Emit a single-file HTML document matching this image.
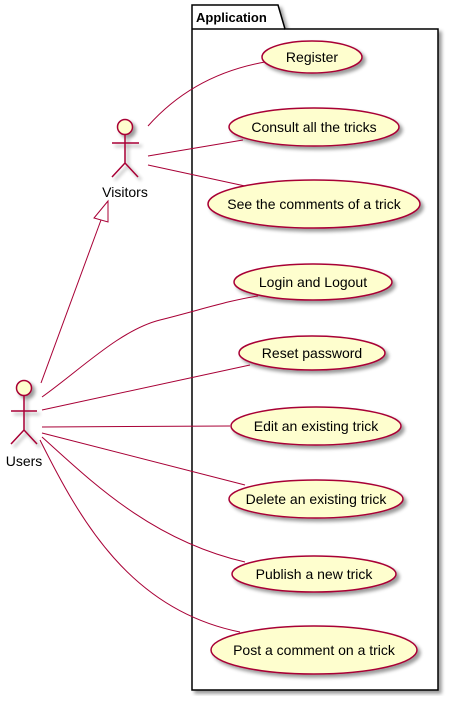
<!DOCTYPE html>
<html><head><meta charset="utf-8"><style>html,body{margin:0;padding:0;background:#fff}</style></head>
<body>
<svg width="453" height="696" xmlns="http://www.w3.org/2000/svg" font-family="Liberation Sans, sans-serif">
<defs><filter id="sh" x="-20%" y="-20%" width="150%" height="150%"><feGaussianBlur in="SourceAlpha" stdDeviation="1.8"/><feOffset dx="3" dy="3"/><feComponentTransfer><feFuncA type="linear" slope="0.4"/></feComponentTransfer><feMerge><feMergeNode/><feMergeNode in="SourceGraphic"/></feMerge></filter></defs>
<g filter="url(#sh)">
<path d="M192,5 L278,5 L285,29 L438,29 L438,690 L192,690 Z" fill="#fff" stroke="#000" stroke-width="1.5"/>
</g>
<line x1="192" y1="29" x2="285" y2="29" stroke="#000" stroke-width="1.5"/>
<text x="196" y="22" font-size="13" font-weight="bold">Application</text>
<g fill="#FEFECE" stroke="#A80036" stroke-width="1.5" filter="url(#sh)">
<ellipse cx="312" cy="57" rx="50" ry="16"/>
<ellipse cx="314" cy="127" rx="85" ry="19"/>
<ellipse cx="314" cy="204" rx="106" ry="24"/>
<ellipse cx="313" cy="282" rx="79" ry="18"/>
<ellipse cx="312" cy="353" rx="73" ry="17"/>
<ellipse cx="316" cy="426" rx="85" ry="19"/>
<ellipse cx="316" cy="499" rx="87" ry="19"/>
<ellipse cx="314" cy="574" rx="82" ry="18"/>
<ellipse cx="314" cy="650" rx="103" ry="24"/>
</g>
<g font-size="14" text-anchor="middle" fill="#000">
<text x="312" y="62">Register</text>
<text x="314" y="132">Consult all the tricks</text>
<text x="314" y="209">See the comments of a trick</text>
<text x="313" y="287">Login and Logout</text>
<text x="312" y="358">Reset password</text>
<text x="316" y="431">Edit an existing trick</text>
<text x="316" y="504">Delete an existing trick</text>
<text x="314" y="579">Publish a new trick</text>
<text x="314" y="655">Post a comment on a trick</text>
</g>
<g fill="none" stroke="#A80036" stroke-width="1">
<path d="M148,126 C180,90 220,70 265,62"/>
<path d="M148,156 L243,140"/>
<path d="M148,165 L245,186"/>
<path d="M41,383 L101,220"/>
<path d="M108,201 L94,218 L108,222 Z" fill="#fff"/>
<path d="M42,397 C80,370 120,330 160,320 C200,310 230,300 258,296"/>
<path d="M42,410 L250,365"/>
<path d="M42,427 L230,426"/>
<path d="M42,433 L245,485"/>
<path d="M42,437 C90,480 150,540 245,562"/>
<path d="M40,440 C80,520 130,610 240,632"/>
</g>
<g fill="#FEFECE" stroke="#A80036" stroke-width="1.5" filter="url(#sh)">
<circle cx="125" cy="127" r="7.5"/>
<path d="M125,135 L125,163 M112,143 L139,143 M125,163 L112,177 M125,163 L138,177" fill="none"/>
<circle cx="24" cy="388" r="7.5"/>
<path d="M24,396 L24,430 M11,411 L37,411 M24,430 L11,444 M24,430 L37,444" fill="none"/>
</g>
<g font-size="14" text-anchor="middle">
<text x="125" y="197">Visitors</text>
<text x="24" y="466">Users</text>
</g>
</svg>
</body></html>
